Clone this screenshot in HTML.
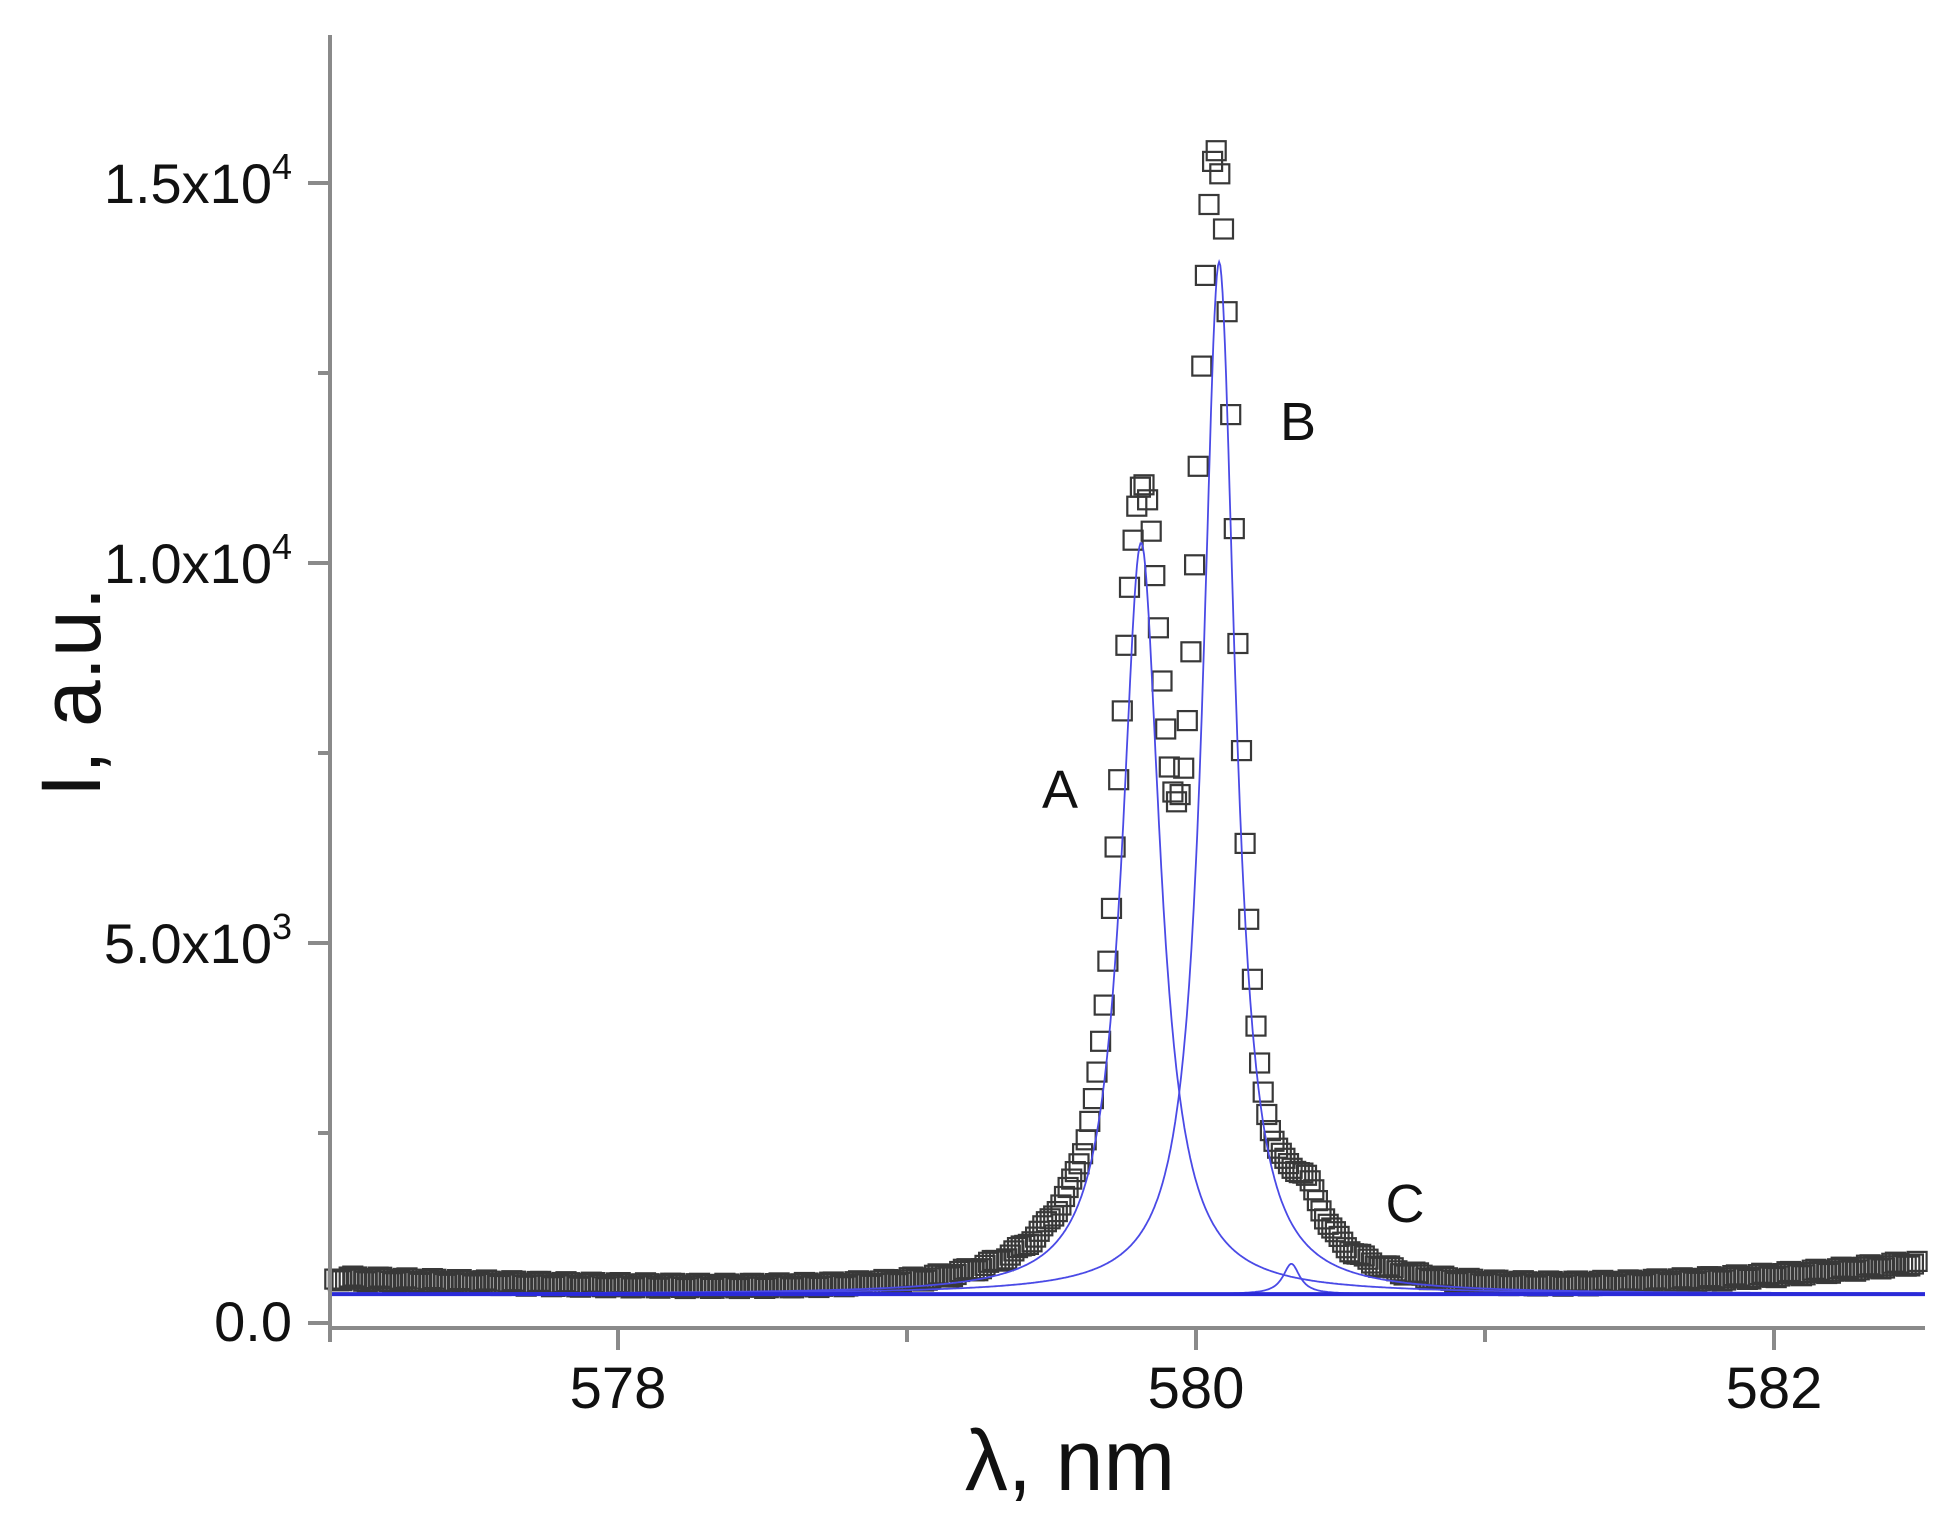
<!DOCTYPE html>
<html><head><meta charset="utf-8"><style>
html,body{margin:0;padding:0;background:#fff;}
svg{display:block;font-family:"Liberation Sans",Arial,sans-serif;}
</style></head><body>
<svg id="s" width="1950" height="1517" viewBox="0 0 1950 1517" xmlns="http://www.w3.org/2000/svg">
<rect width="1950" height="1517" fill="#fff"/>
<g id="data" fill="none" stroke="#383838" stroke-width="2.2"></g>
<g id="fits" fill="none" stroke="#4a4ae6" stroke-width="1.8"></g>
<g stroke="#8a8a8a" stroke-width="4" fill="none">
<line x1="330" y1="35" x2="330" y2="1330"/>
<line x1="328" y1="1328" x2="1925" y2="1328"/>
<line x1="618" y1="1328" x2="618" y2="1350"/>
<line x1="1196" y1="1328" x2="1196" y2="1350"/>
<line x1="1774" y1="1328" x2="1774" y2="1350"/>
<line x1="907" y1="1328" x2="907" y2="1342"/>
<line x1="1485" y1="1328" x2="1485" y2="1342"/>
<line x1="330" y1="1328" x2="330" y2="1342"/>
<line x1="308" y1="1323" x2="330" y2="1323"/>
<line x1="308" y1="943" x2="330" y2="943"/>
<line x1="308" y1="563" x2="330" y2="563"/>
<line x1="308" y1="183" x2="330" y2="183"/>
<line x1="318" y1="1133" x2="330" y2="1133"/>
<line x1="318" y1="753" x2="330" y2="753"/>
<line x1="318" y1="373" x2="330" y2="373"/>
</g>
<g font-size="56" fill="#111" text-anchor="end">
<text x="292" y="1341">0.0</text>
<text x="292" y="963">5.0x10<tspan font-size="36" dy="-24">3</tspan></text>
<text x="292" y="583">1.0x10<tspan font-size="36" dy="-24">4</tspan></text>
<text x="292" y="203">1.5x10<tspan font-size="36" dy="-24">4</tspan></text>
</g>
<g font-size="58" fill="#111" text-anchor="middle">
<text x="618" y="1408">578</text>
<text x="1196" y="1408">580</text>
<text x="1774" y="1408">582</text>
</g>
<text x="1070" y="1490" font-size="86" text-anchor="middle" fill="#111">λ, nm</text>
<text transform="translate(100,692) rotate(-90)" font-size="84" text-anchor="middle" fill="#111">I, a.u.</text>
<g font-size="54" fill="#111" text-anchor="middle">
<text x="1060" y="808">A</text>
<text x="1298" y="440">B</text>
<text x="1405" y="1222">C</text>
</g>
</svg>
<script>
function X(x){return 618+(x-578)*289;}
function Y(v){return 1323-v*0.0759;}
function L(x,c,w){var d=(x-c)/w;return 1/(1+d*d);}
function W(x,c,w){return Math.pow(L(x,c,w),1.5);}
function G(x,c,h){var d=(x-c)/h;return Math.exp(-0.693*d*d);}
function base(x){if(x<579)return 450+140*Math.pow((579-x)/2,2);if(x>580.8)return 450+340*Math.pow((x-580.8)/1.7,2);return 450;}
function dat(x){return base(x)+6600*G(x,579.81,0.08)+3000*W(x,579.81,0.25)+11000*G(x,580.07,0.072)+3000*W(x,580.07,0.25)+550*L(x,580.38,0.07);}
var g=document.getElementById('data'),s="";
for(var x=577.02;x<=582.5;x+=0.0125){
 var v=dat(x)+(Math.sin(x*937)*35);
 s+='<rect x="'+(X(x)-9.5).toFixed(1)+'" y="'+(Y(v)-9.5).toFixed(1)+'" width="19" height="19"/>';
}
g.innerHTML=s;
function path(f){var p="";for(var x=577;x<=582.5;x+=0.004){p+=(p?"L":"M")+X(x).toFixed(1)+","+Y(f(x)).toFixed(1);}return p;}
var fb=380,fg=document.getElementById('fits');
fg.innerHTML='<path d="'+path(function(x){return fb+9900*L(x,579.81,0.08);})+'"/>'+
'<path d="'+path(function(x){return fb+13600*L(x,580.08,0.068);})+'"/>'+
'<path d="'+path(function(x){return fb+400*L(x,580.33,0.035);})+'"/>'+
'<line x1="330" y1="'+Y(fb)+'" x2="1925" y2="'+Y(fb)+'" stroke="#2a2ad8" stroke-width="4"/>';
</script>
</body></html>
